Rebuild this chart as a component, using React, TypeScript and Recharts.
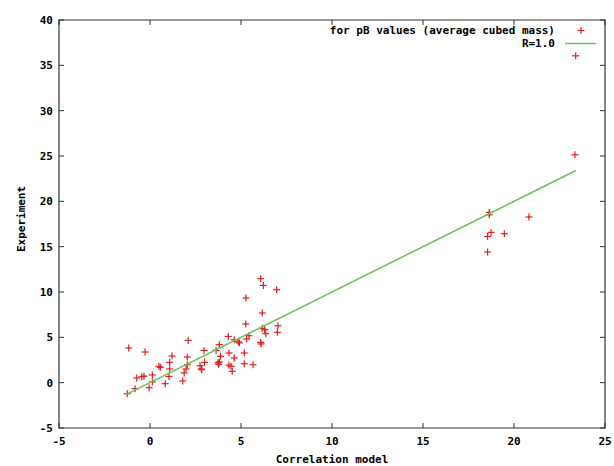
import {
  ScatterChart,
  Scatter,
  XAxis,
  YAxis,
  Legend,
  ReferenceArea,
  Label,
} from "recharts";

// correlation model (x) vs experiment (y)
const modelValues = [
  -1.17, -0.27, -1.25, -0.82, -0.73, -0.45, -0.33, 0.13, 0.13, -0.05, 0.49, 0.57,
  0.84, 1.04, 1.08, 1.08, 1.21, 1.8, 1.88, 1.98, 2.05, 2.05, 2.1, 2.75, 2.82, 2.84,
  2.97, 3.0, 3.63, 3.74, 3.81, 3.77, 3.88, 3.81, 4.3, 4.34, 4.34, 4.45, 4.52, 4.63,
  4.63, 4.85, 4.91, 5.18, 5.18, 5.31, 5.27, 5.26, 5.44, 5.66, 6.08, 6.23, 6.17,
  6.17, 6.3, 6.36, 6.08, 6.1, 6.96, 7.03, 7.0, 18.64, 18.64, 20.82, 18.74, 18.55,
  19.47, 18.55, 23.35, 23.39,
];
const experimentValues = [
  3.83, 3.38, -1.21, -0.66, 0.52, 0.65, 0.72, 0.85, 0.08, -0.55, 1.8, 1.69, -0.11,
  0.69, 1.51, 2.24, 2.94, 0.19, 1.07, 1.51, 1.98, 2.83, 4.66, 1.87, 1.51, 1.43,
  3.56, 2.24, 3.56, 2.2, 2.28, 2.02, 2.9, 4.19, 5.1, 3.27, 1.95, 1.8, 1.25, 2.72,
  4.74, 4.52, 4.38, 3.27, 2.09, 4.82, 9.34, 6.47, 5.18, 1.98, 11.47, 10.73, 7.68,
  5.99, 5.84, 5.4, 4.44, 4.27, 10.25, 6.28, 5.55, 18.78, 18.52, 18.27, 16.57,
  16.13, 16.43, 14.41, 25.14, 36.05,
];

// R=1.0 line endpoints
const fitX = [-1.3, 23.4];
const fitY = [-1.3, 23.4];

const xTicks = [-5, 0, 5, 10, 15, 20, 25];
const yTicks = [-5, 0, 5, 10, 15, 20, 25, 30, 35, 40];

const legendLabels = ["for pB values (average cubed mass)", "R=1.0"];

const points = modelValues.map((x, i) => ({ x, y: experimentValues[i] }));
const fitLine = fitX.map((x, i) => ({ x, y: fitY[i] }));

const RED = "#dd2020";
const GREEN = "#66c455";
const FONT = "'DejaVu Sans Mono', monospace";

const PLOT_LEFT = 59;
const PLOT_RIGHT = 605;
const PLOT_TOP = 20;
const PLOT_BOTTOM = 428;

const textStyle = { fontFamily: FONT, fontSize: 11, fontWeight: 700, fill: "#000" };

const XTick = (props: any) => {
  const { x, payload } = props;
  return (
    <g>
      <line x1={x} x2={x} y1={PLOT_BOTTOM} y2={PLOT_BOTTOM - 5} stroke="#333" />
      <line x1={x} x2={x} y1={PLOT_TOP} y2={PLOT_TOP + 5} stroke="#333" />
      <text x={x} y={PLOT_BOTTOM + 17} textAnchor="middle" style={textStyle}>
        {payload.value}
      </text>
    </g>
  );
};

const YTick = (props: any) => {
  const { y, payload } = props;
  return (
    <g>
      <line x1={PLOT_LEFT} x2={PLOT_LEFT + 5} y1={y} y2={y} stroke="#333" />
      <line x1={PLOT_RIGHT - 5} x2={PLOT_RIGHT} y1={y} y2={y} stroke="#333" />
      <text x={PLOT_LEFT - 6} y={y + 4} textAnchor="end" style={textStyle}>
        {payload.value}
      </text>
    </g>
  );
};

const Plus = (props: any) => {
  const { cx, cy } = props;
  return (
    <g stroke={RED} strokeWidth={1.2}>
      <line x1={cx - 3.5} x2={cx + 3.5} y1={cy} y2={cy} />
      <line x1={cx} x2={cx} y1={cy - 3.5} y2={cy + 3.5} />
    </g>
  );
};

const NoDot = () => <g />;

const LegendBox = () => (
  <div style={{ fontFamily: FONT, fontSize: 11, fontWeight: 700, color: "#000" }}>
    {legendLabels.map((label, i) => (
      <div
        key={label}
        style={{ display: "flex", alignItems: "center", justifyContent: "flex-end", height: 13 }}
      >
        <span style={{ whiteSpace: "pre" }}>{label}</span>
        <svg width={42} height={13}>
          {i === 0 ? (
            <g stroke={RED} strokeWidth={1.2}>
              <line x1={22.5} x2={29.5} y1={6.5} y2={6.5} />
              <line x1={26} x2={26} y1={3} y2={10} />
            </g>
          ) : (
            <line x1={10} x2={41} y1={6.5} y2={6.5} stroke={GREEN} strokeWidth={1.5} />
          )}
        </svg>
      </div>
    ))}
  </div>
);

export default function App() {
  return (
    <div style={{ position: "absolute", left: 0, top: 0, background: "#fff" }}>
      <ScatterChart
        width={614}
        height={466}
        margin={{ top: PLOT_TOP, right: 614 - PLOT_RIGHT, bottom: 0, left: 0 }}
      >
        <XAxis
          type="number"
          dataKey="x"
          domain={[-5, 25]}
          ticks={xTicks}
          allowDataOverflow
          height={466 - PLOT_BOTTOM}
          axisLine={false}
          tickLine={false}
          tick={<XTick />}
        >
          <Label
            content={() => (
              <text x={332} y={463} textAnchor="middle" style={textStyle}>
                Correlation model
              </text>
            )}
          />
        </XAxis>
        <YAxis
          type="number"
          dataKey="y"
          domain={[-5, 40]}
          ticks={yTicks}
          allowDataOverflow
          width={PLOT_LEFT}
          axisLine={false}
          tickLine={false}
          tick={<YTick />}
        >
          <Label
            content={() => (
              <text
                x={25}
                y={219}
                textAnchor="middle"
                transform="rotate(-90 25 219)"
                style={textStyle}
              >
                Experiment
              </text>
            )}
          />
        </YAxis>
        <ReferenceArea
          x1={-5}
          x2={25}
          y1={-5}
          y2={40}
          fill="none"
          stroke="#333"
          strokeWidth={1.2}
          ifOverflow="visible"
        />
        <Scatter
          name={legendLabels[0]}
          data={points}
          shape={<Plus />}
          fill={RED}
          isAnimationActive={false}
        />
        <Scatter
          name={legendLabels[1]}
          data={fitLine}
          line={{ stroke: GREEN, strokeWidth: 1.5 }}
          shape={<NoDot />}
          fill={GREEN}
          isAnimationActive={false}
        />
        <Legend
          layout="vertical"
          align="center"
          verticalAlign="middle"
          content={<LegendBox />}
          wrapperStyle={{ position: "absolute", top: 24, right: 17, left: "auto", width: "auto" }}
        />
      </ScatterChart>
    </div>
  );
}
